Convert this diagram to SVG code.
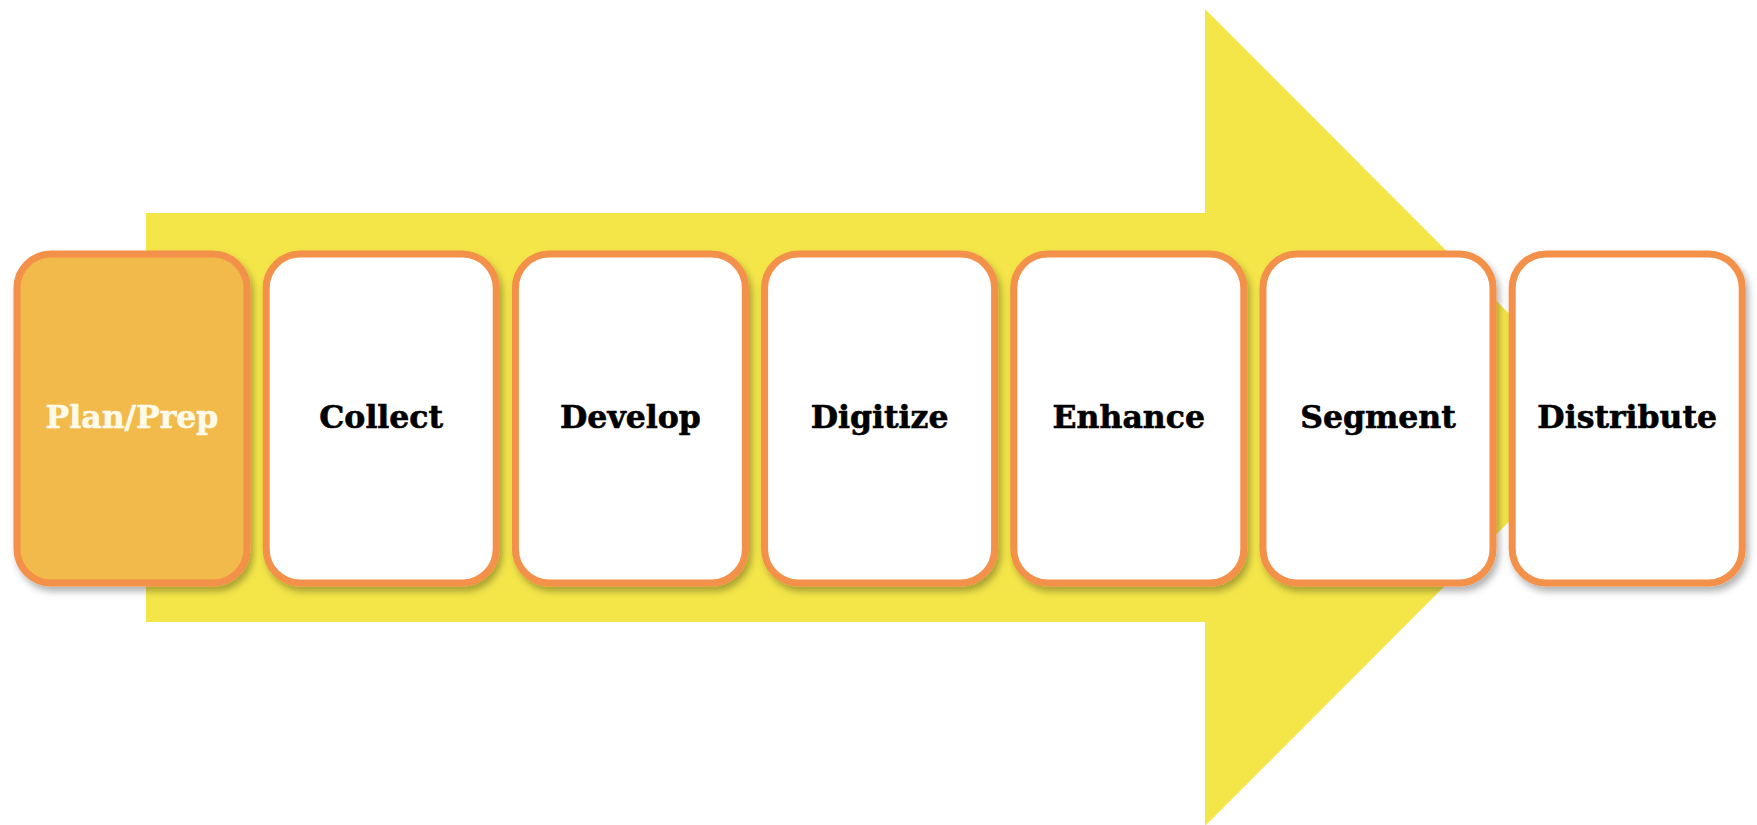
<svg xmlns="http://www.w3.org/2000/svg" width="1757" height="825" viewBox="0 0 1757 825">
<defs>
<filter id="sh" x="-10%" y="-10%" width="130%" height="130%">
<feDropShadow dx="3" dy="5" stdDeviation="3.5" flood-color="#000" flood-opacity="0.3"/>
</filter>
<style>
.box{fill:#fff;stroke:#F3904A;stroke-width:7;filter:url(#sh)}
.first{fill:#F2B94B}
.lbl{font-family:"DejaVu Serif","Liberation Serif",serif;font-weight:bold;font-size:31.5px;text-anchor:middle;fill:#000;stroke:#000;stroke-width:0.6}
.w{fill:#FFFBEA;stroke:#FFFBEA}
</style>
</defs>
<rect width="1757" height="825" fill="#fff"/>
<g id="arrow">
<polygon points="146,213 1205,213 1205,9 1613,417.5 1205,826 1205,622 146,622" fill="#F4E649"/>
</g>
<g id="connectors"></g>
<g id="n1"><rect class="box first" x="17" y="254" width="230" height="329" rx="34"/><text class="lbl w" x="132" y="428">Plan/Prep</text></g>
<g id="n2"><rect class="box" x="266.2" y="254" width="230" height="329" rx="34"/><text class="lbl" x="381.2" y="428">Collect</text></g>
<g id="n3"><rect class="box" x="515.4" y="254" width="230" height="329" rx="34"/><text class="lbl" x="630.4" y="428">Develop</text></g>
<g id="n4"><rect class="box" x="764.6" y="254" width="230" height="329" rx="34"/><text class="lbl" x="879.6" y="428">Digitize</text></g>
<g id="n5"><rect class="box" x="1013.8" y="254" width="230" height="329" rx="34"/><text class="lbl" x="1128.8" y="428">Enhance</text></g>
<g id="n6"><rect class="box" x="1263" y="254" width="230" height="329" rx="34"/><text class="lbl" x="1378" y="428">Segment</text></g>
<g id="n7"><rect class="box" x="1512.2" y="254" width="230" height="329" rx="34"/><text class="lbl" x="1627.2" y="428">Distribute</text></g>
</svg>
